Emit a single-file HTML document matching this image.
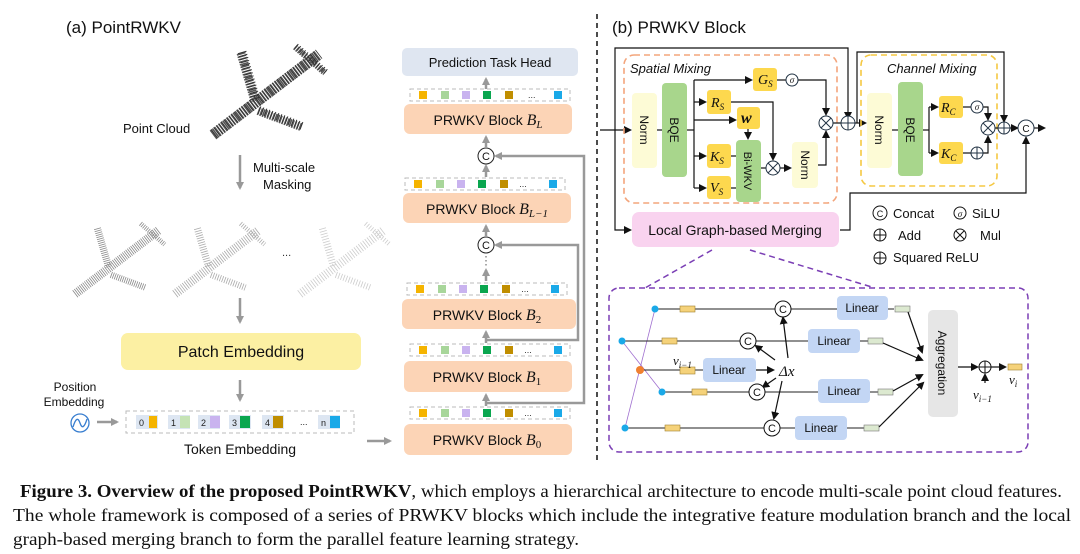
<!DOCTYPE html>
<html><head><meta charset="utf-8"><style>
html,body{margin:0;padding:0;background:#fff;}
svg{display:block;}
text{font-family:"Liberation Sans",sans-serif;}
.s{font-family:"Liberation Serif",serif;}
</style></head><body>
<svg width="1080" height="554" viewBox="0 0 1080 554" xmlns="http://www.w3.org/2000/svg">
<defs>
<marker id="ag" markerWidth="8" markerHeight="8" refX="6" refY="4" orient="auto" markerUnits="userSpaceOnUse"><path d="M0,0 L8,4 L0,8 z" fill="#999"/></marker>
<marker id="ab" markerWidth="8" markerHeight="8" refX="6" refY="4" orient="auto" markerUnits="userSpaceOnUse"><path d="M0,0 L8,4 L0,8 z" fill="#111"/></marker>
<g id="strip">
<rect x="0" y="0" width="160" height="12" fill="#fff" stroke="#bbb" stroke-dasharray="4 3"/>
<rect x="9" y="2" width="8" height="8" fill="#f5b400"/>
<rect x="31" y="2" width="8" height="8" fill="#a8d69a"/>
<rect x="52" y="2" width="8" height="8" fill="#c9b3ef"/>
<rect x="73" y="2" width="8" height="8" fill="#0aa64f"/>
<rect x="95" y="2" width="8" height="8" fill="#c08e00"/>
<text x="118" y="9" font-size="9" fill="#333">...</text>
<rect x="144" y="2" width="8" height="8" fill="#1aa9e8"/>
</g>
<g id="plane" stroke-linecap="butt">
<line x1="0" y1="40" x2="105" y2="-40" stroke-width="11"/>
<line x1="28" y1="-42" x2="42" y2="6" stroke-width="9"/>
<line x1="45" y1="16" x2="88" y2="32" stroke-width="8"/>
<line x1="82" y1="-48" x2="112" y2="-22" stroke-width="6"/>
</g>
</defs>

<!-- (a) -->
<text x="66" y="33" font-size="17" fill="#111">(a) PointRWKV</text>
<g stroke="#555" stroke-dasharray="1.6 1" transform="translate(213,95)"><use href="#plane"/></g>
<g stroke="#333" stroke-dasharray="1 2.2" transform="translate(214,94)"><use href="#plane"/></g>
<text x="123" y="133" font-size="13" fill="#111">Point Cloud</text>
<line x1="240" y1="155" x2="240" y2="188" stroke="#999" stroke-width="2.5" marker-end="url(#ag)"/>
<text x="253" y="172" font-size="13" fill="#111">Multi-scale</text>
<text x="263" y="189" font-size="13" fill="#111">Masking</text>
<g stroke="#888" stroke-dasharray="1 1.6" transform="translate(75,262) scale(0.8)"><use href="#plane"/></g>
<g stroke="#aaa" stroke-dasharray="1 2" transform="translate(175,262) scale(0.8)"><use href="#plane"/></g>
<text x="282" y="256" font-size="11" fill="#333">...</text>
<g stroke="#ccc" stroke-dasharray="1 2.4" transform="translate(300,262) scale(0.8)"><use href="#plane"/></g>
<line x1="240" y1="298" x2="240" y2="322" stroke="#999" stroke-width="2.5" marker-end="url(#ag)"/>
<rect x="121" y="333" width="240" height="37" rx="7" fill="#fcf0a3"/>
<text x="241" y="357" font-size="16" text-anchor="middle" fill="#111">Patch Embedding</text>
<line x1="240" y1="380" x2="240" y2="400" stroke="#999" stroke-width="2.5" marker-end="url(#ag)"/>
<text x="75" y="391" font-size="12" text-anchor="middle" fill="#111">Position</text>
<text x="74" y="406" font-size="12" text-anchor="middle" fill="#111">Embedding</text>
<circle cx="80" cy="423" r="9" fill="none" stroke="#3a7fd0" stroke-width="1.3"/>
<path d="M73,427 Q77,414 80,423 Q83,432 87,419" fill="none" stroke="#3a7fd0" stroke-width="1.3"/>
<line x1="97" y1="422" x2="117" y2="422" stroke="#999" stroke-width="2.5" marker-end="url(#ag)"/>
<rect x="126" y="411" width="228" height="22" fill="#fff" stroke="#bbb" stroke-dasharray="4 3"/>
<g font-size="9" fill="#222">
<rect x="136" y="415" width="22" height="14" fill="#dde6f2"/><text x="139" y="426">0</text><rect x="149" y="416" width="8" height="12" fill="#f5b400"/>
<rect x="168" y="415" width="22" height="14" fill="#dde6f2"/><text x="171" y="426">1</text><rect x="180" y="416" width="10" height="12" fill="#c5e3b5"/>
<rect x="198" y="415" width="22" height="14" fill="#dde6f2"/><text x="201" y="426">2</text><rect x="210" y="416" width="10" height="12" fill="#c9b3ef"/>
<rect x="229" y="415" width="22" height="14" fill="#dde6f2"/><text x="232" y="426">3</text><rect x="240" y="416" width="10" height="12" fill="#0aa64f"/>
<rect x="262" y="415" width="22" height="14" fill="#dde6f2"/><text x="265" y="426">4</text><rect x="273" y="416" width="10" height="12" fill="#c08e00"/>
<text x="300" y="425">...</text>
<rect x="318" y="415" width="22" height="14" fill="#dde6f2"/><text x="321" y="426">n</text><rect x="330" y="416" width="10" height="12" fill="#1aa9e8"/>
</g>
<text x="240" y="454" font-size="14" text-anchor="middle" fill="#111">Token Embedding</text>
<line x1="367" y1="441" x2="390" y2="441" stroke="#999" stroke-width="2.5" marker-end="url(#ag)"/>

<!-- block stack -->
<rect x="402" y="48" width="176" height="28" rx="5" fill="#dfe6f1"/>
<text x="490" y="67" font-size="13" text-anchor="middle" fill="#111">Prediction Task Head</text>
<line x1="486" y1="89" x2="486" y2="79" stroke="#999" stroke-width="2.5" marker-end="url(#ag)"/>
<use href="#strip" x="410" y="89"/>
<g font-size="14" fill="#111" text-anchor="middle">
<rect x="404" y="104" width="168" height="30" rx="6" fill="#fcd4b6"/><text x="488" y="125">PRWKV Block <tspan class="s" font-style="italic" font-size="16">B</tspan><tspan class="s" font-style="italic" font-size="11" dy="3">L</tspan></text>
<use href="#strip" x="405" y="178"/>
<rect x="403" y="193" width="168" height="30" rx="6" fill="#fcd4b6"/><text x="487" y="214">PRWKV Block <tspan class="s" font-style="italic" font-size="16">B</tspan><tspan class="s" font-style="italic" font-size="11" dy="3">L−1</tspan></text>
<use href="#strip" x="407" y="283"/>
<rect x="402" y="299" width="174" height="30" rx="6" fill="#fcd4b6"/><text x="487" y="320">PRWKV Block <tspan class="s" font-style="italic" font-size="16">B</tspan><tspan class="s" font-size="11" dy="3">2</tspan></text>
<use href="#strip" x="410" y="344"/>
<rect x="404" y="361" width="168" height="31" rx="6" fill="#fcd4b6"/><text x="487" y="382">PRWKV Block <tspan class="s" font-style="italic" font-size="16">B</tspan><tspan class="s" font-size="11" dy="3">1</tspan></text>
<use href="#strip" x="410" y="407"/>
<rect x="404" y="424" width="168" height="31" rx="6" fill="#fcd4b6"/><text x="487" y="445">PRWKV Block <tspan class="s" font-style="italic" font-size="16">B</tspan><tspan class="s" font-size="11" dy="3">0</tspan></text>
</g>
<g stroke="#999" stroke-width="2.5" fill="none">
<line x1="486" y1="147" x2="486" y2="137" marker-end="url(#ag)"/>
<line x1="486" y1="177" x2="486" y2="166" marker-end="url(#ag)"/>
<line x1="486" y1="236" x2="486" y2="226" marker-end="url(#ag)"/>
<line x1="486" y1="281" x2="486" y2="270" marker-end="url(#ag)"/>
<line x1="486" y1="343" x2="486" y2="332" marker-end="url(#ag)"/>
<line x1="486" y1="406" x2="486" y2="395" marker-end="url(#ag)"/>
<polyline points="486,403 584,403 584,156 496,156" marker-end="url(#ag)"/>
<polyline points="486,340 578,340 578,245 496,245" marker-end="url(#ag)"/>
</g>
<g font-size="11" text-anchor="middle" fill="#111">
<circle cx="486" cy="156" r="8" fill="#fff" stroke="#222"/><text x="486" y="160">C</text>
<circle cx="486" cy="245" r="8" fill="#fff" stroke="#222"/><text x="486" y="249">C</text>
</g>
<line x1="486" y1="256" x2="486" y2="268" stroke="#555" stroke-dasharray="1.5 2.5"/>

<line x1="597" y1="14" x2="597" y2="462" stroke="#111" stroke-width="1.5" stroke-dasharray="5 4"/>

<!-- (b) -->
<text x="612" y="33" font-size="17" fill="#111">(b) PRWKV Block</text>
<g stroke="#111" stroke-width="1.2" fill="none">
<polyline points="600,130 630,130" marker-end="url(#ab)"/>
<polyline points="615,130 615,48 848,48 848,118" marker-end="url(#ab)"/>
<polyline points="615,130 615,230 630,230" marker-end="url(#ab)"/>
<polyline points="840,230 850,230 850,193 1026,193 1026,138" marker-end="url(#ab)"/>
<polyline points="857,123 857,52 1004,52 1004,121" marker-end="url(#ab)"/>
</g>
<rect x="624" y="55" width="213" height="148" rx="10" fill="none" stroke="#f3a57c" stroke-width="1.6" stroke-dasharray="6 4"/>
<text x="630" y="73" font-size="13" font-style="italic" fill="#111">Spatial Mixing</text>
<rect x="632" y="93" width="25" height="75" rx="4" fill="#fdfbd6"/>
<text transform="translate(640,130) rotate(90)" font-size="12" text-anchor="middle" fill="#111">Norm</text>
<rect x="662" y="83" width="25" height="94" rx="4" fill="#a8d68c"/>
<text transform="translate(670,130) rotate(90)" font-size="12" text-anchor="middle" fill="#111">BQE</text>
<g stroke="#111" stroke-width="1.2" fill="none">
<line x1="657" y1="130" x2="662" y2="130"/>
<line x1="687" y1="130" x2="694" y2="130"/>
<line x1="694" y1="80" x2="694" y2="188"/>
<polyline points="694,80 751,80" marker-end="url(#ab)"/>
<polyline points="694,102 705,102" marker-end="url(#ab)"/>
<polyline points="694,120 735,120" marker-end="url(#ab)"/>
<polyline points="694,156 705,156" marker-end="url(#ab)"/>
<polyline points="694,188 705,188" marker-end="url(#ab)"/>
<line x1="777" y1="80" x2="786" y2="80"/>
<polyline points="798,80 826,80 826,114" marker-end="url(#ab)"/>
<polyline points="731,102 773,102 773,159" marker-end="url(#ab)"/>
<polyline points="748,129 748,138" marker-end="url(#ab)"/>
<line x1="731" y1="156" x2="736" y2="156"/>
<line x1="731" y1="188" x2="736" y2="188"/>
<line x1="761" y1="168" x2="766" y2="168"/>
<polyline points="780,168 790,168" marker-end="url(#ab)"/>
<polyline points="818,165 826,165 826,132" marker-end="url(#ab)"/>
<line x1="833" y1="123" x2="841" y2="123"/>
<polyline points="855,123 865,123" marker-end="url(#ab)"/>
</g>
<g font-family="Liberation Serif" font-style="italic" fill="#111">
<rect x="753" y="68" width="24" height="23" rx="3" fill="#fdd84e"/><text x="758" y="84" font-size="14" class="s">G<tspan font-size="9" dy="3">S</tspan></text>
<rect x="707" y="90" width="24" height="24" rx="3" fill="#fdd84e"/><text x="711" y="107" font-size="14" class="s">R<tspan font-size="9" dy="3">S</tspan></text>
<rect x="737" y="107" width="23" height="22" rx="3" fill="#fdd84e"/><text x="741" y="123" font-size="16" class="s" font-weight="bold">w</text>
<rect x="707" y="144" width="24" height="24" rx="3" fill="#fdd84e"/><text x="710" y="161" font-size="14" class="s">K<tspan font-size="9" dy="3">S</tspan></text>
<rect x="707" y="176" width="24" height="23" rx="3" fill="#fdd84e"/><text x="710" y="192" font-size="14" class="s">V<tspan font-size="9" dy="3">S</tspan></text>
</g>
<rect x="736" y="140" width="25" height="62" rx="4" fill="#a8d68c"/>
<text transform="translate(744,171) rotate(90)" font-size="11" text-anchor="middle" fill="#111">Bi-WKV</text>
<rect x="792" y="142" width="26" height="46" rx="4" fill="#fdfbd6"/>
<text transform="translate(801,165) rotate(90)" font-size="12" text-anchor="middle" fill="#111">Norm</text>

<rect x="861" y="55" width="136" height="131" rx="10" fill="none" stroke="#f5c842" stroke-width="1.6" stroke-dasharray="6 4"/>
<text x="887" y="73" font-size="13" font-style="italic" fill="#111">Channel Mixing</text>
<rect x="867" y="93" width="25" height="75" rx="4" fill="#fdfbd6"/>
<text transform="translate(875,130) rotate(90)" font-size="12" text-anchor="middle" fill="#111">Norm</text>
<rect x="898" y="82" width="25" height="94" rx="4" fill="#a8d68c"/>
<text transform="translate(906,130) rotate(90)" font-size="12" text-anchor="middle" fill="#111">BQE</text>
<g stroke="#111" stroke-width="1.2" fill="none">
<line x1="892" y1="130" x2="898" y2="130"/>
<line x1="923" y1="130" x2="929" y2="130"/>
<line x1="929" y1="107" x2="929" y2="153"/>
<polyline points="929,107 937,107" marker-end="url(#ab)"/>
<polyline points="929,153 937,153" marker-end="url(#ab)"/>
<line x1="963" y1="107" x2="971" y2="107"/>
<line x1="963" y1="153" x2="971" y2="153"/>
<polyline points="983,107 988,107 988,119" marker-end="url(#ab)"/>
<polyline points="983,153 988,153 988,137" marker-end="url(#ab)"/>
<line x1="995" y1="128" x2="998" y2="128"/>
<polyline points="1010,128 1017,128" marker-end="url(#ab)"/>
<polyline points="1034,128 1044,128" marker-end="url(#ab)"/>
</g>
<g class="s" font-style="italic" fill="#111">
<rect x="939" y="96" width="24" height="22" rx="3" fill="#fdd84e"/><text x="941" y="112" font-size="14" class="s">R<tspan font-size="9" dy="3">C</tspan></text>
<rect x="939" y="142" width="24" height="22" rx="3" fill="#fdd84e"/><text x="941" y="158" font-size="14" class="s">K<tspan font-size="9" dy="3">C</tspan></text>
</g>
<!-- operators -->
<g fill="#fff" stroke="#234" stroke-width="1">
<circle cx="792" cy="80" r="6"/><circle cx="977" cy="107" r="6"/>
<circle cx="977" cy="153" r="6"/>
<circle cx="826" cy="123" r="7"/><circle cx="773" cy="168" r="7"/><circle cx="988" cy="128" r="7"/>
<circle cx="848" cy="123" r="7"/><circle cx="1004" cy="128" r="6"/>
<circle cx="1026" cy="128" r="8"/>
</g>
<g stroke="#234" stroke-width="1">
<path d="M821,118 L831,128 M831,118 L821,128 M768,163 L778,173 M778,163 L768,173 M983,123 L993,133 M993,123 L983,133"/>
<path d="M841,123 L855,123 M848,116 L848,130 M998,128 L1010,128 M1004,122 L1004,134 M971,153 L983,153 M977,147 L977,159"/>
</g>
<g font-size="9" text-anchor="middle" fill="#111" class="s" font-style="italic">
<text x="792" y="83" class="s">σ</text><text x="977" y="110" class="s">σ</text>
</g>
<text x="1026" y="132" font-size="10" text-anchor="middle" fill="#111">C</text>

<rect x="632" y="212" width="207" height="35" rx="7" fill="#f9d3ef"/>
<text x="735" y="235" font-size="14" text-anchor="middle" fill="#111">Local Graph-based Merging</text>
<!-- legend -->
<g font-size="13" fill="#111">
<circle cx="880" cy="213" r="7" fill="none" stroke="#111"/><text x="880" y="217" font-size="9" text-anchor="middle">C</text><text x="893" y="218">Concat</text>
<circle cx="960" cy="213" r="6" fill="none" stroke="#111"/><text x="960" y="217" font-size="9" text-anchor="middle" class="s" font-style="italic">σ</text><text x="972" y="218">SiLU</text>
<circle cx="880" cy="235" r="6" fill="none" stroke="#111"/><path d="M874,235 L886,235 M880,229 L880,241" stroke="#111"/><text x="898" y="240">Add</text>
<circle cx="960" cy="235" r="6" fill="none" stroke="#111"/><path d="M956,231 L964,239 M964,231 L956,239" stroke="#111"/><text x="980" y="240">Mul</text>
<circle cx="880" cy="258" r="6" fill="none" stroke="#111"/><path d="M874,258 L886,258 M880,252 L880,264" stroke="#111"/><text x="893" y="262">Squared ReLU</text>
</g>
<g stroke="#7b3fb5" stroke-width="1.5" stroke-dasharray="6 4" fill="none">
<line x1="712" y1="250" x2="645" y2="288"/>
<line x1="750" y1="250" x2="875" y2="288"/>
<rect x="609" y="288" width="419" height="164" rx="10"/>
</g>
<!-- graph -->
<g stroke="#a070d0" stroke-width="0.8">
<line x1="655" y1="309" x2="625" y2="428"/><line x1="622" y1="341" x2="662" y2="392"/>
</g>
<g stroke="#222" stroke-width="1">
<line x1="655" y1="309" x2="775" y2="309"/><line x1="791" y1="309" x2="837" y2="309"/>
<line x1="622" y1="341" x2="740" y2="341"/><line x1="756" y1="341" x2="808" y2="341"/>
<line x1="640" y1="370" x2="703" y2="370"/>
<line x1="662" y1="392" x2="749" y2="392"/><line x1="765" y1="392" x2="818" y2="392"/>
<line x1="625" y1="428" x2="764" y2="428"/><line x1="780" y1="428" x2="795" y2="428"/>
<line x1="888" y1="309" x2="894" y2="309"/><line x1="860" y1="341" x2="868" y2="341"/>
<line x1="870" y1="392" x2="878" y2="392"/><line x1="847" y1="428" x2="864" y2="428"/>
</g>
<g fill="#1aa9e8"><circle cx="655" cy="309" r="3.5"/><circle cx="622" cy="341" r="3.5"/><circle cx="662" cy="392" r="3.5"/><circle cx="625" cy="428" r="3.5"/></g>
<circle cx="640" cy="370" r="4" fill="#f08030"/>
<g fill="#f5d27a" stroke="#a08030" stroke-width="0.6">
<rect x="680" y="306" width="15" height="6"/><rect x="662" y="338" width="15" height="6"/>
<rect x="680" y="367" width="15" height="7"/><rect x="692" y="389" width="15" height="6"/>
<rect x="665" y="425" width="15" height="6"/><rect x="1008" y="364" width="14" height="6"/>
</g>
<g fill="#dce9d0" stroke="#777" stroke-width="0.6">
<rect x="895" y="306" width="15" height="6"/><rect x="868" y="338" width="15" height="6"/>
<rect x="878" y="389" width="15" height="6"/><rect x="864" y="425" width="15" height="6"/>
</g>
<g fill="#c3d6f4">
<rect x="837" y="296" width="51" height="24" rx="4"/><rect x="808" y="329" width="52" height="24" rx="4"/>
<rect x="703" y="358" width="53" height="24" rx="4"/><rect x="818" y="379" width="52" height="24" rx="4"/>
<rect x="795" y="416" width="52" height="24" rx="4"/>
</g>
<g font-size="12" text-anchor="middle" fill="#111">
<text x="862" y="312">Linear</text><text x="834" y="345">Linear</text><text x="729" y="374">Linear</text>
<text x="844" y="395">Linear</text><text x="821" y="432">Linear</text>
</g>
<rect x="928" y="310" width="30" height="107" rx="5" fill="#e6e6e6"/>
<text transform="translate(938,363) rotate(90)" font-size="12" text-anchor="middle" fill="#111">Aggregation</text>
<g stroke="#111" stroke-width="1.2" fill="none">
<line x1="756" y1="370" x2="773" y2="370" marker-end="url(#ab)"/>
<line x1="788" y1="358" x2="783" y2="318" marker-end="url(#ab)"/>
<line x1="775" y1="360" x2="756" y2="346" marker-end="url(#ab)"/>
<line x1="776" y1="378" x2="763" y2="387" marker-end="url(#ab)"/>
<line x1="782" y1="381" x2="774" y2="418" marker-end="url(#ab)"/>
<line x1="908" y1="312" x2="922" y2="352" marker-end="url(#ab)"/>
<line x1="883" y1="343" x2="922" y2="360" marker-end="url(#ab)"/>
<line x1="893" y1="391" x2="922" y2="375" marker-end="url(#ab)"/>
<line x1="879" y1="427" x2="923" y2="383" marker-end="url(#ab)"/>
<line x1="958" y1="367" x2="977" y2="367" marker-end="url(#ab)"/>
<line x1="991" y1="367" x2="1005" y2="367" marker-end="url(#ab)"/>
<line x1="985" y1="383" x2="985" y2="375" marker-end="url(#ab)"/>
</g>
<g font-size="11" text-anchor="middle" fill="#111">
<circle cx="783" cy="309" r="8" fill="#fff" stroke="#111"/><text x="783" y="313">C</text>
<circle cx="748" cy="341" r="8" fill="#fff" stroke="#111"/><text x="748" y="345">C</text>
<circle cx="757" cy="392" r="8" fill="#fff" stroke="#111"/><text x="757" y="396">C</text>
<circle cx="772" cy="428" r="8" fill="#fff" stroke="#111"/><text x="772" y="432">C</text>
</g>
<circle cx="985" cy="367" r="6" fill="#fff" stroke="#111"/><path d="M979,367 L991,367 M985,361 L985,373" stroke="#111"/>
<g class="s" font-style="italic" fill="#111">
<text x="779" y="376" font-size="15" class="s">Δ<tspan>x</tspan></text>
<text x="673" y="365" font-size="13" class="s">v<tspan font-size="9" dy="3">i−1</tspan></text>
<text x="973" y="399" font-size="13" class="s">v<tspan font-size="9" dy="3">i−1</tspan></text>
<text x="1009" y="384" font-size="13" class="s">v<tspan font-size="9" dy="3">i</tspan></text>
</g>

<!-- caption -->
<g class="s" font-size="17.5" fill="#111">
<text x="20" y="497" textLength="1042" lengthAdjust="spacingAndGlyphs" class="s"><tspan font-weight="bold">Figure 3. Overview of the proposed PointRWKV</tspan>, which employs a hierarchical architecture to encode multi-scale point cloud features.</text>
<text x="13" y="521" textLength="1058" lengthAdjust="spacingAndGlyphs" class="s">The whole framework is composed of a series of PRWKV blocks which include the integrative feature modulation branch and the local</text>
<text x="13" y="545" textLength="566" lengthAdjust="spacingAndGlyphs" class="s">graph-based merging branch to form the parallel feature learning strategy.</text>
</g>
</svg>
</body></html>
